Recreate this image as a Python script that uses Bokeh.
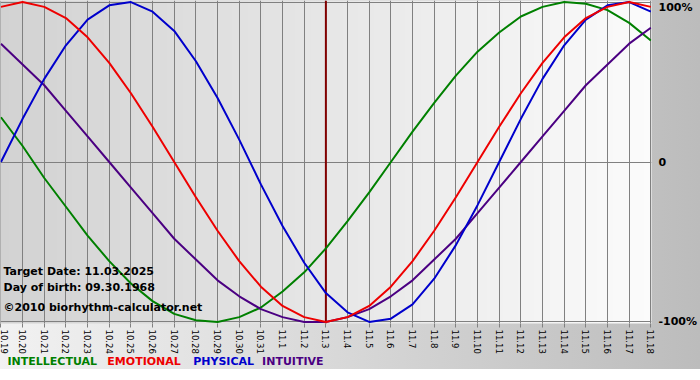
import math
import numpy as np
from bokeh.plotting import figure
from bokeh.layouts import column
from bokeh.models import Range1d, FixedTicker, Label, Span, ColumnDataSource
from bokeh.core.properties import value
from bokeh.embed import file_html
from bokeh.resources import INLINE

# ---- data ----
dates = ["10.19", "10.20", "10.21", "10.22", "10.23", "10.24", "10.25", "10.26",
         "10.27", "10.28", "10.29", "10.30", "10.31", "11.1", "11.2", "11.3",
         "11.4", "11.5", "11.6", "11.7", "11.8", "11.9", "11.10", "11.11",
         "11.12", "11.13", "11.14", "11.15", "11.16", "11.17", "11.18"]

physical = [0.00, 0.27, 0.52, 0.73, 0.89, 0.98, 1.00, 0.94, 0.82, 0.63, 0.40,
            0.14, -0.14, -0.40, -0.63, -0.82, -0.94, -1.00, -0.98, -0.89, -0.73,
            -0.52, -0.27, 0.00, 0.27, 0.52, 0.73, 0.89, 0.98, 1.00, 0.94]
emotional = [0.97, 1.00, 0.97, 0.90, 0.78, 0.62, 0.43, 0.22, 0.00, -0.22, -0.43,
             -0.62, -0.78, -0.90, -0.97, -1.00, -0.97, -0.90, -0.78, -0.62, -0.43,
             -0.22, 0.00, 0.22, 0.43, 0.62, 0.78, 0.90, 0.97, 1.00, 0.97]
intellectual = [0.28, 0.10, -0.10, -0.28, -0.46, -0.62, -0.76, -0.87, -0.95, -0.99,
                -1.00, -0.97, -0.91, -0.81, -0.69, -0.54, -0.37, -0.19, 0.00, 0.19,
                0.37, 0.54, 0.69, 0.81, 0.91, 0.97, 1.00, 0.99, 0.95, 0.87, 0.76]
intuitive = [0.74, 0.61, 0.48, 0.32, 0.16, 0.00, -0.16, -0.32, -0.48, -0.61, -0.74,
             -0.84, -0.92, -0.97, -1.00, -1.00, -0.97, -0.92, -0.84, -0.74, -0.61,
             -0.48, -0.32, -0.16, 0.00, 0.16, 0.32, 0.48, 0.61, 0.74, 0.84]

target_date = "11.3"
y_ticks = [-1, 0, 1]
y_tick_labels = ["-100%", "0", "100%"]

series_names = ["INTELLECTUAL", "EMOTIONAL", "PHYSICAL", "INTUITIVE"]
series_colors = ["#008000", "#ee0000", "#0000cc", "#4b0082"]

info_texts = ["Target Date: 11.03.2025", "Day of birth: 09.30.1968",
              "\u00a92010 biorhythm-calculator.net"]

x = list(range(len(dates)))

# ---------------- main chart ----------------
p = figure(width=700, height=356, output_backend="svg", toolbar_location=None,
           x_range=Range1d(-0.02, 30.03), y_range=Range1d(-1.01, 1.01),
           y_axis_location="right",
           min_border_left=0, min_border_top=0, min_border_right=48,
           min_border_bottom=33)
p.background_fill_color = None
p.border_fill_color = None
p.outline_line_color = None

# plot-area gradient background (style only)
n = 256
g = np.linspace(0, 1, n)
shade = (0xd2 + (0xfc - 0xd2) * g).astype(np.uint8)
img = np.empty((1, n), dtype=np.uint32)
view = img.view(dtype=np.uint8).reshape((1, n, 4))
view[..., 0] = shade
view[..., 1] = shade
view[..., 2] = shade
view[..., 3] = 255
p.image_rgba(image=[img], x=-0.5, y=-1.2, dw=31, dh=2.4, level="image")

# grids
p.xgrid.ticker = FixedTicker(ticks=x)
p.xgrid.grid_line_color = "#808080"
p.xgrid.grid_line_alpha = 1
p.ygrid.ticker = FixedTicker(ticks=y_ticks)
p.ygrid.grid_line_color = "#808080"
p.ygrid.grid_line_alpha = 1

# x axis
xa = p.xaxis[0]
xa.ticker = FixedTicker(ticks=x)
xa.major_label_overrides = {i: d for i, d in enumerate(dates)}
xa.major_label_orientation = -math.pi / 2
xa.major_label_text_font = "DejaVu Sans"
xa.major_label_text_font_size = "8.5px"
xa.major_label_text_color = "#000000"
xa.major_label_standoff = 2
xa.major_tick_out = 4
xa.major_tick_in = 0
xa.major_tick_line_color = "#808080"
xa.minor_tick_line_color = None
xa.axis_line_color = None

# y axis (right)
ya = p.yaxis[0]
ya.ticker = FixedTicker(ticks=y_ticks)
ya.major_label_overrides = {t: l for t, l in zip(y_ticks, y_tick_labels)}
ya.major_label_text_font = "DejaVu Sans"
ya.major_label_text_font_style = "bold"
ya.major_label_text_font_size = "11px"
ya.major_label_text_color = "#000000"
ya.major_label_standoff = 7
ya.major_tick_out = 0
ya.major_tick_in = 0
ya.minor_tick_line_color = None
ya.axis_line_color = None

# target date line
p.add_layout(Span(location=dates.index(target_date), dimension="height",
                  line_color="#800000", line_width=2, level="underlay"))

# curves
for vals, col in zip([intellectual, intuitive, physical, emotional],
                     [series_colors[0], series_colors[3], series_colors[2], series_colors[1]]):
    p.line(x, vals, line_color=col, line_width=2)

# info texts
info_y = [-0.685, -0.785, -0.91]
for t, yy in zip(info_texts, info_y):
    p.add_layout(Label(x=0.12, y=yy, text=t, text_font="DejaVu Sans",
                       text_font_style="bold", text_font_size="11px",
                       text_color="#000000", text_baseline="middle"))

# ---------------- coloured legend strip ----------------
# its frame is aligned with the main chart's frame (652 px wide)
leg = figure(width=700, height=14, output_backend="svg", toolbar_location=None,
             x_range=Range1d(0, 652), y_range=Range1d(0, 14),
             x_axis_type=None, y_axis_type=None,
             min_border_left=0, min_border_right=48, min_border_top=0,
             min_border_bottom=0)
leg.background_fill_color = None
leg.border_fill_color = None
leg.outline_line_color = None
leg.grid.visible = False
leg_src = ColumnDataSource(dict(x=[7, 107, 193, 262], y=[9, 9, 9, 9],
                                text=series_names, color=series_colors))
leg.text(x="x", y="y", text="text", text_color="color", source=leg_src,
         text_font=value("DejaVu Sans"), text_font_style="bold",
         text_font_size="11px", text_baseline="middle", text_align="left")

layout = column(p, leg, spacing=0)

html = file_html(layout, INLINE, title="Biorhythm")
css = ("<style>html,body{margin:0;padding:0;}"
       "html{background:#ffffff linear-gradient(to right,#f2f2f2,#bcbcbc) no-repeat;"
       "background-size:700px 369px;}</style></head>")
html = html.replace("</head>", css, 1)
open("out.html", "w").write(html)
